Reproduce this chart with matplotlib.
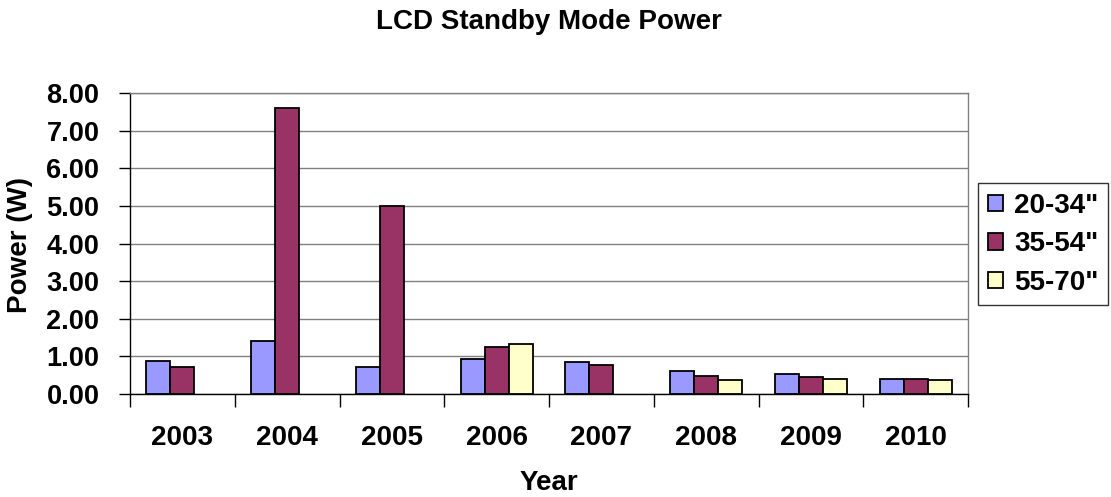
import numpy as np
import matplotlib
matplotlib.use("Agg")
import matplotlib.pyplot as plt

plt.rcParams['font.family'] = ['Liberation Sans', 'DejaVu Sans']
plt.rcParams['font.weight'] = 'bold'

# data
years = ['2003', '2004', '2005', '2006', '2007', '2008', '2009', '2010']
series_names = ['20-34"', '35-54"', '55-70"']
small = [0.88, 1.41, 0.72, 0.93, 0.84, 0.60, 0.53, 0.40]
medium = [0.72, 7.60, 5.00, 1.25, 0.77, 0.48, 0.44, 0.40]
large = [0.0, 0.0, 0.0, 1.33, 0.0, 0.37, 0.40, 0.37]
colors = ['#9999FF', '#993366', '#FFFFCC']

fig = plt.figure(figsize=(11.11, 4.97), dpi=100)
ax = fig.add_axes([130 / 1111, 1 - 394 / 497, 838 / 1111, 301 / 497])

x = np.arange(len(years))
w = 0.229
for i, (vals, c, name) in enumerate(zip([small, medium, large], colors, series_names)):
    vals = np.array(vals)
    mask = vals > 0
    ax.bar(x[mask] + (i - 1) * w, vals[mask], width=w, color=c,
           edgecolor='black', linewidth=1.3, label=name, zorder=3)

ax.set_xlim(-0.5, len(years) - 0.5)
ax.set_ylim(0, 8)
ax.set_yticks(np.arange(0, 8.01, 1))
ax.set_yticklabels([f'{v:.2f}' for v in np.arange(0, 8.01, 1)], fontsize=19.5, fontweight='bold')
ax.set_xticks(x)
ax.set_xticklabels(years, fontsize=20, fontweight='bold')
ax.set_xticks(np.arange(-0.5, len(years), 1), minor=True)
ax.tick_params(axis='x', which='major', length=0, pad=22)
ax.tick_params(axis='x', which='minor', length=9, width=1, direction='out')
ax.tick_params(axis='y', length=8, width=1, direction='out', pad=14)

ax.yaxis.grid(True, color='#808080', linewidth=1, zorder=0)
ax.set_axisbelow(True)
for s in ['top', 'right']:
    ax.spines[s].set_color('#808080')
    ax.spines[s].set_linewidth(1)
for s in ['left', 'bottom']:
    ax.spines[s].set_color('black')
    ax.spines[s].set_linewidth(1)

fig.text(549 / 1111, 1 - 22 / 497, 'LCD Standby Mode Power', ha='center', va='center',
         fontsize=20, fontweight='bold')
fig.text(20 / 1111, 1 - 245 / 497, 'Power (W)', ha='center', va='center', rotation=90,
         fontsize=20, fontweight='bold')
fig.text(549 / 1111, 1 - 483 / 497, 'Year', ha='center', va='center',
         fontsize=20, fontweight='bold')

leg = fig.legend(loc='upper right', bbox_to_anchor=(1108 / 1111, 1 - 183 / 497),
                 prop={'size': 20, 'weight': 'bold'}, frameon=True, fancybox=False,
                 handlelength=0.55, handleheight=0.55, handletextpad=0.4,
                 labelspacing=0.45, borderpad=0.35, borderaxespad=0)
leg.get_frame().set_edgecolor('black')
leg.get_frame().set_linewidth(1)

fig.savefig('out.png', dpi=100)
